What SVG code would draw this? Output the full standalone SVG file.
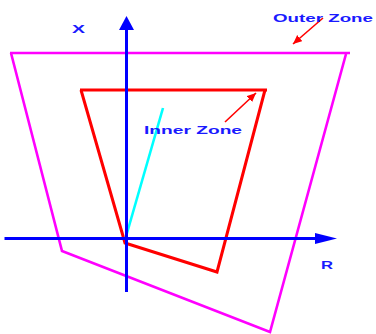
<svg xmlns="http://www.w3.org/2000/svg" width="376" height="334" viewBox="0 0 376 334">
<style>
.lbl{font-family:"Liberation Sans",Arial,sans-serif;font-weight:bold;font-size:11.5px;fill:#1a1aff}
.ax{stroke:#0000ff;stroke-width:3;fill:none}
.outer{stroke:#ff00ff;stroke-width:2.6;fill:none;stroke-linejoin:miter}
.inner{stroke:#ff0000;stroke-width:3;fill:none}
.ptr{stroke:#ff0000;stroke-width:1.6;fill:none}
</style>
<defs>
<marker id="redhead" markerWidth="10" markerHeight="10" refX="9" refY="4" orient="auto" markerUnits="userSpaceOnUse">
<path d="M0,0 L9,4 L0,8 Z" fill="#ff0000"/>
</marker>
</defs>
<g id="outer-zone">
<polyline class="outer" points="10,53 350,53"/>
<polyline class="outer" points="11,53 62,251 270,332 346,54"/>
</g>
<g id="inner-zone">
<polyline class="inner" points="80,90 267,90"/>
<polyline class="inner" points="81,90 125,243 217,272 265,90"/>
</g>
<g id="connectors">
<line x1="125" y1="240" x2="163" y2="108" stroke="#00ffff" stroke-width="2.6"/>
<line class="ax" x1="126.5" y1="292" x2="126.5" y2="28"/>
<path d="M126.5,16 L134,30 L119,30 Z" fill="#0000ff"/>
<line class="ax" x1="4.5" y1="238.5" x2="318" y2="238.5"/>
<path d="M337,238.5 L315,233 L315,244 Z" fill="#0000ff"/>
<line class="ptr" x1="323" y1="18" x2="293" y2="44" marker-end="url(#redhead)"/>
<line class="ptr" x1="225" y1="122" x2="256" y2="93" marker-end="url(#redhead)"/>
</g>
<g id="labels">
<text class="lbl" transform="translate(72,33) scale(1.65,1)" textLength="7.9" lengthAdjust="spacingAndGlyphs">X</text>
<text class="lbl" transform="translate(273,21.5) scale(1.65,1)" textLength="60.6" lengthAdjust="spacingAndGlyphs">Outer Zone</text>
<text class="lbl" transform="translate(144,133.5) scale(1.65,1)" textLength="59.4" lengthAdjust="spacingAndGlyphs">Inner Zone</text>
<text class="lbl" transform="translate(321,269) scale(1.65,1)" textLength="7.3" lengthAdjust="spacingAndGlyphs">R</text>
</g>
</svg>
